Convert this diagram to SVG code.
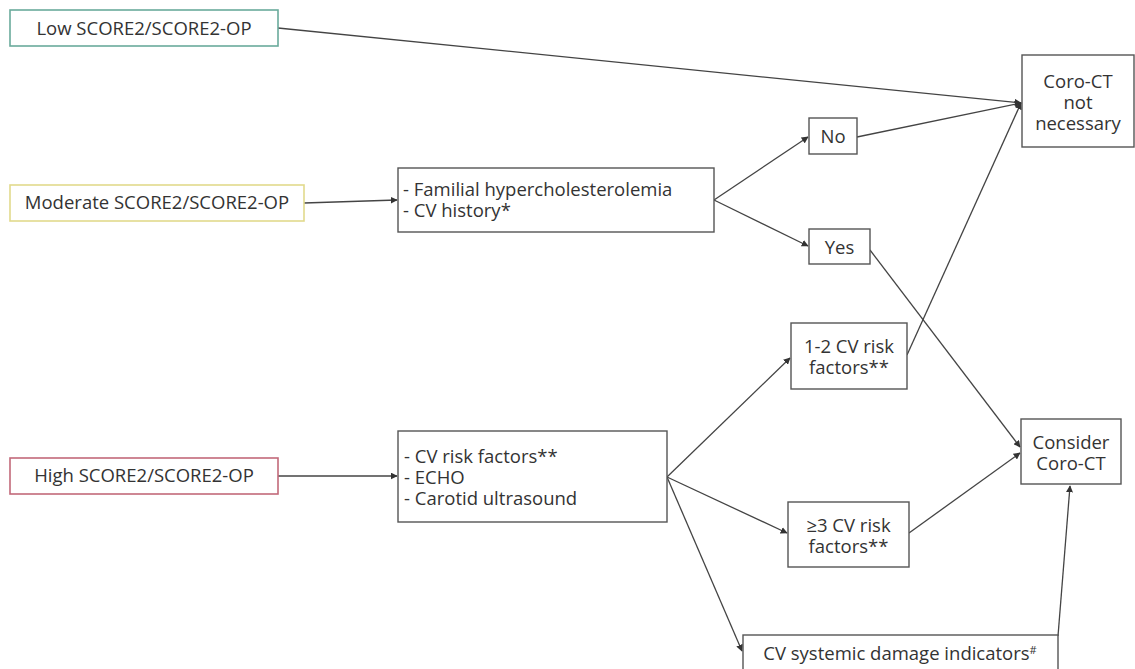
<svg xmlns="http://www.w3.org/2000/svg" width="1135" height="669" viewBox="0 0 1135 669">
  <style>
    text { font-family: "Open Sans", "Noto Sans", "Liberation Sans", sans-serif; font-size: 18.5px; fill: #333; }
    .c { text-anchor: middle; }
    .box { fill: #fff; stroke: #555; stroke-width: 1.4; }
    .low { fill: #fff; stroke: #6aab9c; stroke-width: 1.6; }
    .mod { fill: #fff; stroke: #e2da8c; stroke-width: 1.6; }
    .high { fill: #fff; stroke: #c2697a; stroke-width: 1.6; }
    .edge { fill: none; stroke: #444; stroke-width: 1.3; marker-end: url(#arrow); }
  </style>
  <defs>
    <marker id="arrow" viewBox="0 0 10 10" refX="9" refY="5" markerWidth="7" markerHeight="7" orient="auto" markerUnits="userSpaceOnUse">
      <path d="M0,0 L10,5 L0,10 z" fill="#333"/>
    </marker>
  </defs>
  <rect width="1135" height="669" fill="#fff"/>

  <g id="connectors">
    <line class="edge" x1="278" y1="28" x2="1021" y2="103"/>
    <line class="edge" x1="857" y1="137" x2="1021" y2="103"/>
    <line class="edge" x1="907" y1="355" x2="1021" y2="103"/>
    <line class="edge" x1="304" y1="203" x2="397" y2="200"/>
    <line class="edge" x1="714" y1="200" x2="808" y2="137"/>
    <line class="edge" x1="714" y1="200" x2="808" y2="246"/>
    <line class="edge" x1="870" y1="250" x2="1020" y2="447"/>
    <line class="edge" x1="278" y1="476" x2="397" y2="476"/>
    <line class="edge" x1="667" y1="477" x2="790" y2="358"/>
    <line class="edge" x1="667" y1="477" x2="787" y2="533"/>
    <line class="edge" x1="667" y1="477" x2="742" y2="651"/>
    <line class="edge" x1="909" y1="533" x2="1020" y2="453"/>
    <line class="edge" x1="1058" y1="636" x2="1070" y2="486"/>
  </g>

  <g id="low">
    <rect class="low" x="10" y="10" width="268" height="36"/>
    <text class="c" x="144" y="35">Low SCORE2/SCORE2-OP</text>
  </g>
  <g id="moderate">
    <rect class="mod" x="10" y="185" width="294" height="36"/>
    <text class="c" x="157" y="209">Moderate SCORE2/SCORE2-OP</text>
  </g>
  <g id="high">
    <rect class="high" x="10" y="458" width="268" height="36"/>
    <text class="c" x="144" y="482">High SCORE2/SCORE2-OP</text>
  </g>
  <g id="familial">
    <rect class="box" x="398" y="168" width="316" height="64"/>
    <text x="403" y="196">- Familial hypercholesterolemia<tspan x="403" dy="21">- CV history*</tspan></text>
  </g>
  <g id="assessment">
    <rect class="box" x="398" y="431" width="269" height="91"/>
    <text x="404" y="463">- CV risk factors**<tspan x="404" dy="21">- ECHO</tspan><tspan x="404" dy="21">- Carotid ultrasound</tspan></text>
  </g>
  <g id="no">
    <rect class="box" x="809" y="118" width="48" height="36"/>
    <text class="c" x="833" y="143">No</text>
  </g>
  <g id="yes">
    <rect class="box" x="809" y="229" width="61" height="35"/>
    <text class="c" x="839.5" y="254">Yes</text>
  </g>
  <g id="not-necessary">
    <rect class="box" x="1022" y="55" width="112" height="92"/>
    <text class="c" x="1078" y="88">Coro-CT<tspan x="1078" dy="21">not</tspan><tspan x="1078" dy="21">necessary</tspan></text>
  </g>
  <g id="rf-1-2">
    <rect class="box" x="791" y="323" width="116" height="66"/>
    <text class="c" x="849" y="353">1-2 CV risk<tspan x="849" dy="21">factors**</tspan></text>
  </g>
  <g id="rf-3">
    <rect class="box" x="788" y="502" width="121" height="65"/>
    <text class="c" x="848.5" y="532">≥3 CV risk<tspan x="848.5" dy="21">factors**</tspan></text>
  </g>
  <g id="consider">
    <rect class="box" x="1021" y="419" width="100" height="65"/>
    <text class="c" x="1071" y="449">Consider<tspan x="1071" dy="21">Coro-CT</tspan></text>
  </g>
  <g id="damage">
    <rect class="box" x="743" y="635" width="315" height="45"/>
    <text class="c" x="900" y="660">CV systemic damage indicators<tspan font-size="11" dy="-6">#</tspan></text>
  </g>
</svg>
